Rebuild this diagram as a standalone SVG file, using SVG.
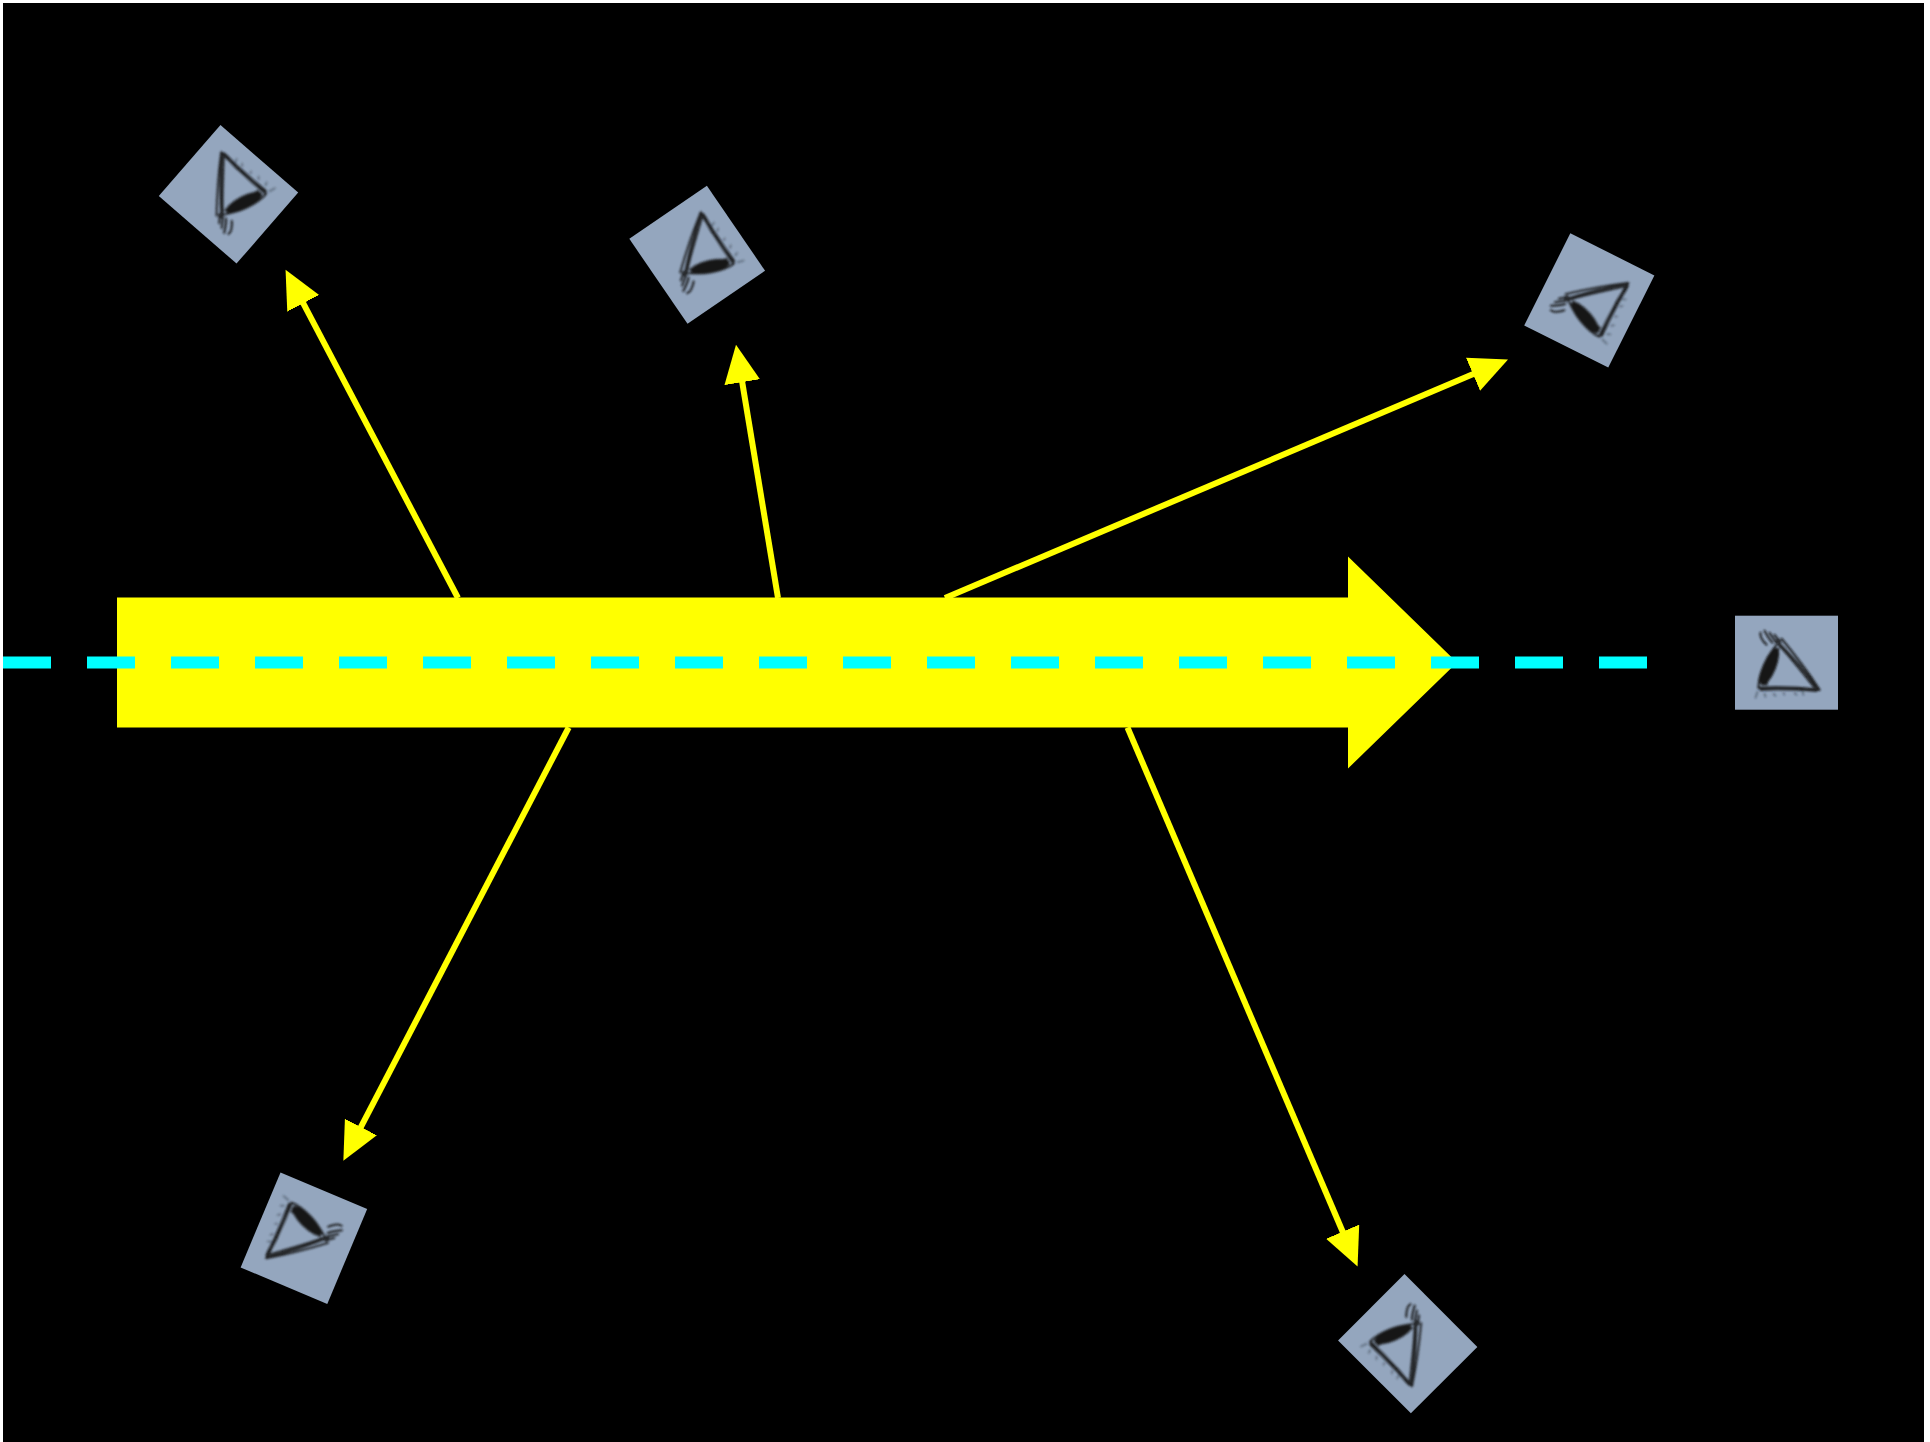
<svg xmlns="http://www.w3.org/2000/svg" xmlns:xlink="http://www.w3.org/1999/xlink" width="1930" height="1442" viewBox="0 0 1930 1442">
  <style>
    .ray { fill: none; stroke: #ffff00; stroke-width: 6; marker-end: url(#head); }
    .beam { fill: #ffff00; }
    .axis { fill: none; stroke: #00ffff; stroke-width: 12; stroke-dasharray: 48 36; }
    .icon-bg { fill: #94a6be; }
    .ink { fill: none; stroke: #151515; stroke-width: 1.9; stroke-linecap: round; }
    .ink-faint { fill: none; stroke: #2a2f38; stroke-width: 1.4; stroke-linecap: round; opacity: 0.6; }
    .ink-fill { fill: #151515; }
  </style>
  <defs>
    <marker id="head" markerUnits="userSpaceOnUse" markerWidth="40" markerHeight="38" refX="8" refY="18" orient="auto">
      <path d="M0,0 L38,18 L0,36 Z" fill="#ffff00"/>
    </marker>
    <filter id="soft" x="-20%" y="-20%" width="140%" height="140%">
      <feGaussianBlur stdDeviation="0.9"/>
    </filter>
    <!-- sketched eye in profile, looking left, centred on the origin -->
    <g id="eye" filter="url(#soft)">
      <!-- upper lashes -->
      <path class="ink" d="M-26,-30 C-27,-26 -24,-22 -20,-18"/>
      <path class="ink" d="M-22,-32 C-20,-28 -18,-24 -14,-20"/>
      <path class="ink" d="M-17,-30 C-15,-27 -13,-24 -10,-20"/>
      <path class="ink" d="M-12,-28 C-10,-25 -8,-23 -6,-21"/>
      <!-- upper lid -->
      <path class="ink" d="M-10,-22 C0,-12 18,8 32,27"/>
      <path class="ink" d="M-5,-24 C5,-12 22,10 33,27"/>
      <path class="ink" d="M-8,-18 C2,-8 16,10 28,25"/>
      <!-- eyeball -->
      <ellipse class="ink-fill" cx="-17" cy="4" rx="6.5" ry="20" transform="rotate(22 -17 4)"/>
      <path class="ink" d="M-10,-18 C-22,-2 -28,14 -28,25"/>
      <path class="ink" d="M-8,-14 C-14,-2 -18,10 -20,22"/>
      <!-- lower lid -->
      <path class="ink" d="M-28,25 C-5,24 15,25 33,27"/>
      <path class="ink" d="M-26,27 C-5,26 14,27 30,28"/>
      <!-- lower lashes -->
      <path class="ink-faint" d="M-29,29 l-2,6"/>
      <path class="ink-faint" d="M-22,31 l1,3"/>
      <path class="ink-faint" d="M-13,31 l2,2"/>
      <path class="ink-faint" d="M-3,30 l1,2"/>
      <path class="ink-faint" d="M8,30 l2,2"/>
      <path class="ink-faint" d="M16,29 l1,3"/>
    </g>
  </defs>

  <!-- frame and background -->
  <rect x="0" y="0" width="1930" height="1442" fill="#ffffff"/>
  <rect x="3" y="3" width="1921" height="1439" fill="#000000"/>

  <!-- scattered rays -->
  <g id="connectors">
    <path class="ray" d="M458,598 L299.5,296.2"/>
    <path class="ray" d="M778,598 L740.9,374.3"/>
    <path class="ray" d="M945,598 L1480.4,371.1"/>
    <path class="ray" d="M568.7,727.5 L357.2,1134.1"/>
    <path class="ray" d="M1127.5,727.5 L1345.8,1239"/>
  </g>

  <!-- main beam -->
  <g id="beam">
    <path class="beam" d="M117,597.5 H1348 V556.5 L1457,662.5 L1348,768.5 V727.5 H117 Z"/>
  </g>

  <!-- line of sight -->
  <g id="axis">
    <path class="axis" d="M3,662.5 H1647"/>
  </g>

  <!-- observers -->
  <g id="observer-1" transform="translate(228.5,194.3) rotate(-139)">
    <rect class="icon-bg" x="-51.5" y="-47" width="103" height="94"/>
    <use xlink:href="#eye"/>
  </g>
  <g id="observer-2" transform="translate(697.2,254.8) rotate(-124.4)">
    <rect class="icon-bg" x="-51.5" y="-47" width="103" height="94"/>
    <use xlink:href="#eye"/>
  </g>
  <g id="observer-3" transform="translate(1589.3,300.4) rotate(-63.4)">
    <rect class="icon-bg" x="-51.5" y="-47" width="103" height="94"/>
    <use xlink:href="#eye"/>
  </g>
  <g id="observer-4" transform="translate(303.9,1238.2) rotate(112.8)">
    <rect class="icon-bg" x="-51.5" y="-47" width="103" height="94"/>
    <use xlink:href="#eye"/>
  </g>
  <g id="observer-5" transform="translate(1407.7,1343.7) rotate(45)">
    <rect class="icon-bg" x="-51.5" y="-47" width="103" height="94"/>
    <use xlink:href="#eye"/>
  </g>
  <g id="observer-6" transform="translate(1786.5,662.7)">
    <rect class="icon-bg" x="-51.5" y="-47" width="103" height="94"/>
    <use xlink:href="#eye"/>
  </g>
</svg>
